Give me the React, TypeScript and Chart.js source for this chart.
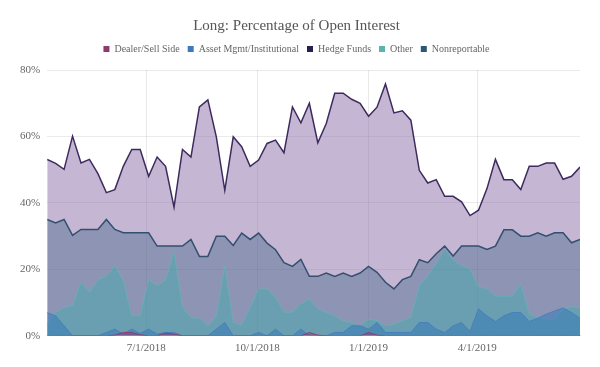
import React, { useEffect, useRef } from "react";
import { Chart, registerables } from "chart.js";

Chart.register(...registerables);

const dates = [
  "2018-04-10", "2018-04-17", "2018-04-24", "2018-05-01", "2018-05-08", "2018-05-15", "2018-05-22", "2018-05-29",
  "2018-06-05", "2018-06-12", "2018-06-19", "2018-06-26", "2018-07-03", "2018-07-10", "2018-07-17", "2018-07-24",
  "2018-07-31", "2018-08-07", "2018-08-14", "2018-08-21", "2018-08-28", "2018-09-04", "2018-09-11", "2018-09-18",
  "2018-09-25", "2018-10-02", "2018-10-09", "2018-10-16", "2018-10-23", "2018-10-30", "2018-11-06", "2018-11-13",
  "2018-11-20", "2018-11-27", "2018-12-04", "2018-12-11", "2018-12-18", "2018-12-25", "2019-01-01", "2019-01-08",
  "2019-01-15", "2019-01-22", "2019-01-29", "2019-02-05", "2019-02-12", "2019-02-19", "2019-02-26", "2019-03-05",
  "2019-03-12", "2019-03-19", "2019-03-26", "2019-04-02", "2019-04-09", "2019-04-16", "2019-04-23", "2019-04-30",
  "2019-05-07", "2019-05-14", "2019-05-21", "2019-05-28", "2019-06-04", "2019-06-11", "2019-06-18", "2019-06-25",
];

const dealer = [
  0, 0, 0, 0, 0, 0, 0, 0, 0.2, 1.0,
  1.0, 0.3, 0, 0, 0.8, 0.5, 0, 0, 0, 0,
  0, 0, 0, 0, 0, 0, 0, 0, 0, 0,
  0, 1.0, 0.2, 0, 0, 0, 0, 0, 1.0, 0.2,
  0, 0, 0, 0, 0, 0, 0, 0, 0, 0,
  0, 0, 0, 0, 0, 0, 0, 0, 0, 0,
  0, 0, 0, 0,
];

const assetMgmt = [
  7.0, 6.0, 3.0, 0, 0, 0, 0, 1.0, 2.0, 0.5,
  2.0, 0.7, 2.0, 0.5, 1.0, 1.0, 0, 0, 0, 0,
  2.0, 4.0, 0, 0, 0, 1.0, 0, 2.0, 0, 0,
  2.0, 0, 0, 0, 1.0, 1.0, 3.0, 3.0, 2.0, 4.0,
  1.0, 1.0, 1.0, 1.0, 4.0, 4.0, 2.0, 1.0, 3.0, 4.0,
  1.3, 8.1, 6.0, 4.3, 6.0, 7.0, 7.0, 4.3, 5.3, 6.5,
  7.5, 8.4, 7.0, 5.3,
];

const hedgeFunds = [
  53.1, 51.9, 50.1, 60.1, 52.0, 53.1, 48.8, 43.1, 44.0, 51.0,
  56.1, 56.1, 48.0, 53.8, 51.0, 38.7, 56.1, 53.8, 68.9, 71.0,
  59.9, 43.8, 59.9, 56.9, 51.0, 52.9, 57.9, 58.9, 55.1, 68.9,
  64.1, 70.0, 58.1, 63.9, 73.0, 73.0, 71.2, 70.0, 66.1, 68.8,
  75.8, 67.1, 67.7, 64.9, 49.8, 46.0, 47.0, 42.0, 42.0, 40.3,
  36.2, 37.8, 44.3, 53.1, 47.0, 47.0, 44.0, 51.0, 51.0, 52.0,
  52.0, 47.1, 48.0, 50.8,
];

const other = [
  3.5, 7.0, 8.5, 9.1, 16.1, 13.1, 16.9, 17.9, 21.1, 16.6,
  6.0, 6.0, 16.9, 15.1, 16.9, 25.2, 8.5, 5.5, 5.3, 3.0,
  5.8, 21.1, 4.0, 3.3, 8.5, 14.1, 14.1, 11.6, 7.0, 7.0,
  9.6, 11.1, 8.1, 7.0, 6.0, 4.5, 4.0, 3.0, 5.0, 4.5,
  3.0, 3.5, 4.5, 5.5, 15.0, 18.0, 21.8, 25.9, 22.9, 21.1,
  20.1, 14.8, 14.1, 11.9, 11.9, 11.9, 15.6, 6.5, 5.5, 5.0,
  5.0, 8.1, 8.8, 8.4,
];

const nonreportable = [
  35.0, 34.0, 35.0, 30.2, 32.0, 32.0, 32.0, 35.0, 32.0, 31.0,
  31.0, 31.0, 31.0, 27.0, 27.0, 27.0, 27.0, 29.0, 23.9, 23.9,
  30.0, 30.0, 27.2, 30.9, 29.0, 30.9, 27.9, 25.9, 22.0, 20.9,
  23.0, 17.9, 17.9, 18.9, 17.9, 18.9, 17.9, 18.9, 20.9, 19.1,
  16.1, 14.1, 16.9, 17.9, 22.9, 22.0, 24.7, 27.0, 24.0, 27.0,
  27.0, 27.0, 26.0, 27.0, 31.9, 31.9, 30.0, 30.0, 31.0, 30.0,
  31.0, 31.0, 28.0, 29.0,
];

const xTickDates = ["2018-07-01", "2018-10-01", "2019-01-01", "2019-04-01"];
const xTickLabels = ["7/1/2018", "10/1/2018", "1/1/2019", "4/1/2019"];
const yTicks = [0, 20, 40, 60, 80];

const toTs = (s: string) => {
  const [y, m, d] = s.split("-").map(Number);
  return Date.UTC(y, m - 1, d);
};

const FONT = "'Liberation Serif', 'DejaVu Serif', serif";

const legendMargin = {
  id: "legendMargin",
  beforeInit(chart: any) {
    const lg = chart.legend;
    if (!lg) return;
    const orig = lg.fit;
    lg.fit = function () {
      orig.bind(lg)();
      this.height += 6;
    };
  },
};

export default function App() {
  const ref = useRef<HTMLCanvasElement | null>(null);

  useEffect(() => {
    document.body.style.margin = "0";
    const canvas = ref.current;
    if (!canvas) return;
    const pts = (arr: number[]) => arr.map((v, i) => ({ x: toTs(dates[i]), y: v }));

    const chart = new Chart(canvas, {
      type: "line",
      data: {
        datasets: [
          {
            label: "Dealer/Sell Side",
            data: pts(dealer),
            borderColor: "rgba(142,59,110,0.9)",
            backgroundColor: "rgba(150,40,100,0.45)",
            borderWidth: 1,
            fill: "origin",
            order: 0,
            legendColor: "#8e3b6e",
          } as any,
          {
            label: "Asset Mgmt/Institutional",
            data: pts(assetMgmt),
            borderColor: "rgba(70,125,190,0.9)",
            backgroundColor: "rgba(50,120,185,0.5)",
            borderWidth: 1,
            fill: "origin",
            order: 1,
            legendColor: "#3f78bf",
          } as any,
          {
            label: "Hedge Funds",
            data: pts(hedgeFunds),
            borderColor: "#3d2b5e",
            backgroundColor: "rgba(140,110,170,0.5)",
            borderWidth: 1.5,
            fill: "origin",
            order: 4,
            legendColor: "#2a1d50",
          } as any,
          {
            label: "Other",
            data: pts(other),
            borderColor: "rgba(95,185,180,0.6)",
            backgroundColor: "rgba(60,170,170,0.45)",
            borderWidth: 1,
            fill: "origin",
            order: 2,
            legendColor: "#5bb3ae",
          } as any,
          {
            label: "Nonreportable",
            data: pts(nonreportable),
            borderColor: "#34506e",
            backgroundColor: "rgba(40,90,120,0.35)",
            borderWidth: 1.5,
            fill: "origin",
            order: 3,
            legendColor: "#2d5873",
          } as any,
        ],
      },
      options: {
        responsive: false,
        animation: false,
        layout: { padding: { left: 13, right: 20, top: 0, bottom: 6 } },
        elements: { point: { radius: 0 }, line: { tension: 0 } },
        plugins: {
          tooltip: { enabled: false },
          title: {
            display: true,
            text: "Long: Percentage of Open Interest",
            color: "#555",
            font: { family: FONT, size: 15, weight: "normal" },
            padding: { top: 17, bottom: 1 },
          },
          legend: {
            display: true,
            labels: {
              boxWidth: 6,
              boxHeight: 6,
              padding: 8,
              color: "#666",
              font: { family: FONT, size: 10 },
              generateLabels: (chart: any) => {
                const items = (Chart as any).defaults.plugins.legend.labels.generateLabels(chart);
                items.forEach((it: any) => {
                  const ds: any = chart.data.datasets[it.datasetIndex];
                  it.fillStyle = ds.legendColor;
                  it.strokeStyle = ds.legendColor;
                  it.lineWidth = 0;
                });
                return items.sort((a: any, b: any) => a.datasetIndex - b.datasetIndex);
              },
            },
          },
        },
        scales: {
          x: {
            type: "linear",
            min: toTs(dates[0]),
            max: toTs(dates[dates.length - 1]),
            afterBuildTicks: (axis: any) => {
              axis.ticks = xTickDates.map((d) => ({ value: toTs(d) }));
            },
            ticks: {
              autoSkip: false,
              maxRotation: 0,
              padding: 6,
              color: "#666",
              font: { family: FONT, size: 11 },
              callback: (_v: any, i: number) => xTickLabels[i],
            },
            grid: { color: "rgba(0,0,0,0.09)", drawTicks: false },
            border: { display: true, color: "rgba(0,0,0,0.15)" },
          },
          y: {
            min: 0,
            max: 80,
            afterBuildTicks: (axis: any) => {
              axis.ticks = yTicks.map((v) => ({ value: v }));
            },
            ticks: {
              padding: 7,
              color: "#666",
              font: { family: FONT, size: 11 },
              callback: (v: any) => v + "%",
            },
            grid: { color: "rgba(0,0,0,0.08)", drawTicks: false },
            border: { display: false },
          },
        },
      },
      plugins: [legendMargin],
    } as any);

    return () => chart.destroy();
  }, []);

  return (
    <div style={{ width: 600, height: 367, background: "#fff" }}>
      <canvas ref={ref} width={600} height={367} />
    </div>
  );
}
